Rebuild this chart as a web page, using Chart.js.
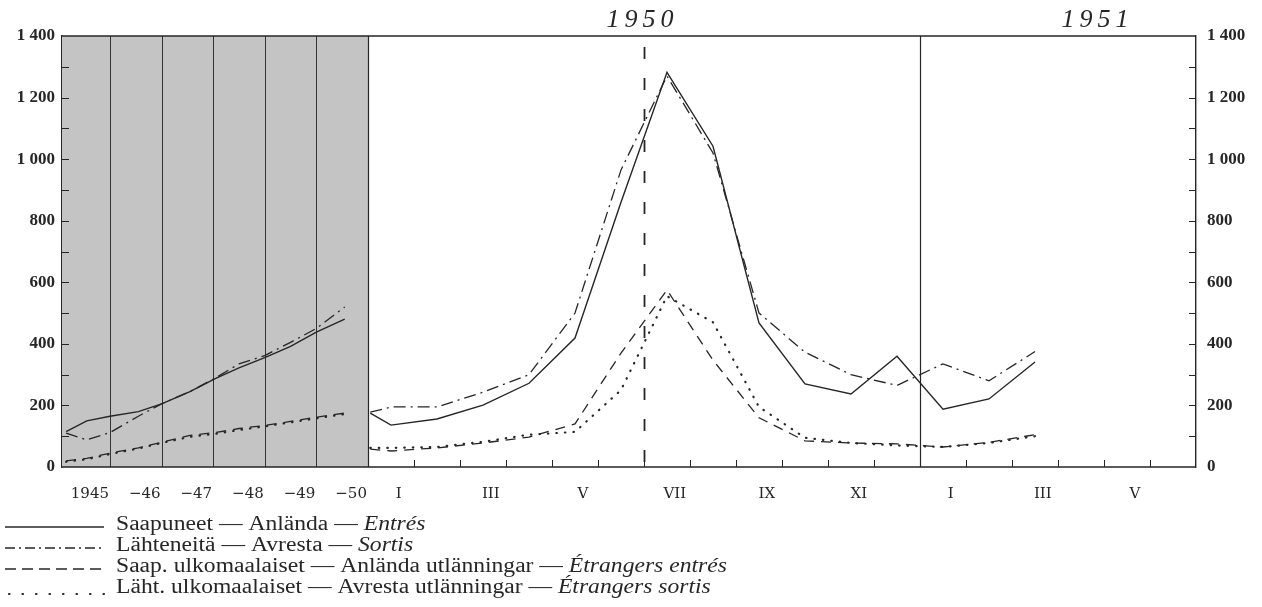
<!DOCTYPE html>
<html><head><meta charset="utf-8">
<script src="https://cdn.jsdelivr.net/npm/chart.js@4.4.1/dist/chart.umd.min.js"></script>
<style>html,body{margin:0;padding:0;background:#fff;}#wrap{width:1262px;height:607px;position:relative;}</style>
</head><body><div id="wrap"><canvas id="c" width="1262" height="607"></canvas></div>
<script>
// ---------- DATA ----------
// Annual section (1945 – 1950), x in years
const annualX = [1945.15,1945.55,1946.0,1946.55,1947.0,1947.55,1948.05,1948.5,1949.0,1949.5,1950.0,1950.55];
const annualArrivals          = [115,150,165,180,205,245,288,322,355,392,438,480];
const annualDepartures        = [110, 88,112,165,205,245,290,335,362,405,450,520];
const annualForeignArrivals   = [ 20, 28, 45, 62, 80,103,112,125,135,148,162,175];
const annualForeignDepartures = [ 17, 25, 42, 60, 78, 98,108,120,132,145,158,172];
// Monthly section (Jan 1950 – Mar 1951), x in months from 1 Jan 1950
const monthX = [0.05,0.5,1.5,2.5,3.5,4.5,5.5,6.5,7.5,8.5,9.5,10.5,11.5,12.5,13.5,14.5];
const monthlyArrivals          = [175,136,156,201,272,419,860,1282,1042,468,270,237,360,188,221,341];
const monthlyDepartures        = [178,195,195,243,300,500,965,1270,1020,500,373,300,265,335,280,375];
const monthlyForeignArrivals   = [ 58, 52, 62, 78, 97,140,370, 575, 347,160, 85, 78, 75, 65, 80,105];
const monthlyForeignDepartures = [ 62, 62, 65, 82,105,114,250, 555, 470,195, 95, 78, 70, 65, 78,100];
// Tick labels
const yearLabels  = ["1945","\u221246","\u221247","\u221248","\u221249","\u221250"];
const yearStarts  = [1945,1946,1947,1948,1949,1950];
const monthLabels = ["I","III","V","VII","IX","XI","I","III","V"];
const monthLabelIdx = [0,2,4,6,8,10,12,14,16];
const periodTitles = ["1950","1951"];
const periodTitleMonth = [6,12];
const legendItems = [
  [["Saapuneet \u2014 Anl\u00e4nda \u2014 ",false],["Entr\u00e9s",true]],
  [["L\u00e4hteneit\u00e4 \u2014 Avresta \u2014 ",false],["Sortis",true]],
  [["Saap. ulkomaalaiset \u2014 Anl\u00e4nda utl\u00e4nningar \u2014 ",false],["\u00c9trangers entr\u00e9s",true]],
  [["L\u00e4ht. ulkomaalaiset \u2014 Avresta utl\u00e4nningar \u2014 ",false],["\u00c9trangers sortis",true]]
];

// ---------- STYLE ----------
const INK = '#262626';
const styles = [
  {dash: [], cap: 'butt', w: 1.4},
  {dash: [12,5,2,5], cap: 'butt', w: 1.3},
  {dash: [10,7], cap: 'butt', w: 1.3},
  {dash: [0.5,8], cap: 'round', w: 2.2}
];
const pts = (xs, ys) => xs.map((x,i) => ({x, y: ys[i]}));
const annualSets = [annualArrivals, annualDepartures, annualForeignArrivals, annualForeignDepartures];
const monthlySets = [monthlyArrivals, monthlyDepartures, monthlyForeignArrivals, monthlyForeignDepartures];
const datasets = [];
annualSets.forEach((ys,i) => datasets.push({data: pts(annualX, ys), xAxisID:'xa', yAxisID:'y',
  borderColor: INK, borderWidth: styles[i].w, borderDash: styles[i].dash, borderCapStyle: styles[i].cap,
  pointRadius: 0, tension: 0, fill: false}));
monthlySets.forEach((ys,i) => datasets.push({data: pts(monthX, ys), xAxisID:'xm', yAxisID:'y',
  borderColor: INK, borderWidth: styles[i].w, borderDash: styles[i].dash, borderCapStyle: styles[i].cap,
  pointRadius: 0, tension: 0, fill: false}));

const yTick = v => (v % 200 === 0) ? (v >= 1000 ? Math.floor(v/1000) + ' ' + String(v%1000).padStart(3,'0') : String(v)) : '';

const framePlugin = {
  id: 'frame',
  beforeDatasetsDraw(chart) {
    const {ctx, chartArea: a, scales} = chart;
    const xa = scales.xa, xm = scales.xm;
    const split = xm.getPixelForValue(0);
    ctx.save();
    // shaded annual panel
    ctx.fillStyle = '#c4c4c4';
    ctx.fillRect(a.left, a.top, split - a.left, a.bottom - a.top);
    ctx.strokeStyle = '#333';
    ctx.lineWidth = 1;
    yearStarts.slice(1).forEach(yr => {
      const x = Math.round(xa.getPixelForValue(yr)) + 0.5;
      ctx.beginPath(); ctx.moveTo(x, a.top); ctx.lineTo(x, a.bottom); ctx.stroke();
    });
    // solid separators
    ctx.strokeStyle = INK; ctx.lineWidth = 1.2;
    [0, 12].forEach(m => {
      const x = Math.round(xm.getPixelForValue(m)) + 0.5;
      ctx.beginPath(); ctx.moveTo(x, a.top); ctx.lineTo(x, a.bottom); ctx.stroke();
    });
    // dashed mid-year line
    ctx.setLineDash([12,19]); ctx.lineWidth = 1.8;
    const xd = Math.round(xm.getPixelForValue(6)) + 0.5;
    ctx.beginPath(); ctx.moveTo(xd, a.top + 11); ctx.lineTo(xd, a.bottom); ctx.stroke();
    ctx.setLineDash([]);
    // top & bottom frame
    ctx.lineWidth = 1.4;
    ctx.beginPath(); ctx.moveTo(a.left, a.top); ctx.lineTo(a.right, a.top);
    ctx.moveTo(a.left, a.bottom); ctx.lineTo(a.right, a.bottom); ctx.stroke();
    // inward y tick marks
    ctx.lineWidth = 1;
    const y = scales.y;
    for (let v = 100; v < 1400; v += 100) {
      const py = Math.round(y.getPixelForValue(v)) + 0.5;
      ctx.beginPath(); ctx.moveTo(a.left, py); ctx.lineTo(a.left + 7, py);
      ctx.moveTo(a.right, py); ctx.lineTo(a.right - 7, py); ctx.stroke();
    }
    // inward month tick marks
    for (let m = 1; m < 18; m++) {
      const px = Math.round(xm.getPixelForValue(m)) + 0.5;
      ctx.beginPath(); ctx.moveTo(px, a.bottom); ctx.lineTo(px, a.bottom - 7); ctx.stroke();
    }
    ctx.restore();
  },
  afterDraw(chart) {
    const {ctx, chartArea: a, scales} = chart;
    const xa = scales.xa, xm = scales.xm;
    ctx.save();
    ctx.fillStyle = INK;
    ctx.textBaseline = 'middle';
    // annual labels: right-aligned to the end of each year
    ctx.font = '15px "DejaVu Serif"';
    ctx.textAlign = 'right';
    yearLabels.forEach((t,i) => ctx.fillText(t, xa.getPixelForValue(yearStarts[i] + 1) - 1, a.bottom + 27));
    // month labels
    ctx.textAlign = 'center';
    monthLabels.forEach((t,i) => ctx.fillText(t, xm.getPixelForValue(monthLabelIdx[i] + 0.67), a.bottom + 27));
    // period titles
    ctx.font = 'italic 26px "Liberation Serif"';
    ctx.textBaseline = 'alphabetic';
    periodTitles.forEach((t,i) => {
      const cx = xm.getPixelForValue(periodTitleMonth[i]) + (i === 0 ? -4 : 175);
      const sp = 5;
      const ws = [...t].map(c => ctx.measureText(c).width);
      const tot = ws.reduce((s,w)=>s+w,0) + sp*(t.length-1);
      let x = cx - tot/2;
      ctx.textAlign = 'left';
      [...t].forEach((c,k) => { ctx.fillText(c, x, 27); x += ws[k] + sp; });
    });
    // legend
    const rowY = [525, 546, 567, 588];
    const sx0 = 5, sx1 = 104, tx = 116;
    legendItems.forEach((segs, i) => {
      const yy = rowY[i];
      ctx.save();
      ctx.strokeStyle = INK;
      ctx.lineWidth = i === 3 ? 2.2 : 1.4;
      ctx.lineCap = styles[i].cap;
      ctx.setLineDash(i === 1 ? [10,4,2,4] : i === 2 ? [11,6] : i === 3 ? [0.5,13] : []);
      const ly = i === 3 ? yy + 6 : yy + 2;
      ctx.beginPath(); ctx.moveTo(sx0 + (i===3?4:0), ly); ctx.lineTo(sx1, ly); ctx.stroke();
      ctx.restore();
      ctx.save();
      ctx.translate(tx, yy);
      ctx.scale(1.18, 1);
      let x = 0;
      ctx.textAlign = 'left'; ctx.textBaseline = 'middle';
      segs.forEach(([t, it]) => {
        ctx.font = (it ? 'italic ' : '') + '20px "Liberation Serif"';
        ctx.fillText(t, x, 0);
        x += ctx.measureText(t).width;
      });
      ctx.restore();
    });
    ctx.restore();
  }
};

new Chart(document.getElementById('c'), {
  type: 'line',
  data: { datasets },
  options: {
    responsive: false, animation: false, devicePixelRatio: 1,
    layout: { padding: { top: 36, bottom: 140, left: 0, right: 0 } },
    plugins: { legend: { display: false }, tooltip: { enabled: false }, title: { display: false } },
    scales: {
      xa: { type: 'linear', display: false, min: 1945.07, max: 1967.05 },
      xm: { type: 'linear', display: false, min: -6.652, max: 18 },
      y: { type: 'linear', position: 'left', min: 0, max: 1400,
        afterFit: s => { s.width = 62; },
        grid: { display: false, drawTicks: false },
        border: { display: true, color: INK, width: 1.4 },
        ticks: { stepSize: 100, autoSkip: false, padding: 7, color: INK,
          font: { family: '"Liberation Serif"', size: 17, weight: 'bold' }, callback: yTick } },
      y2: { type: 'linear', position: 'right', min: 0, max: 1400,
        afterFit: s => { s.width = 66; },
        grid: { display: false, drawTicks: false },
        border: { display: true, color: INK, width: 1.4 },
        ticks: { stepSize: 100, autoSkip: false, padding: 11, color: INK,
          font: { family: '"Liberation Serif"', size: 17, weight: 'bold' }, callback: yTick } }
    }
  },
  plugins: [framePlugin]
});
</script>
</body></html>
